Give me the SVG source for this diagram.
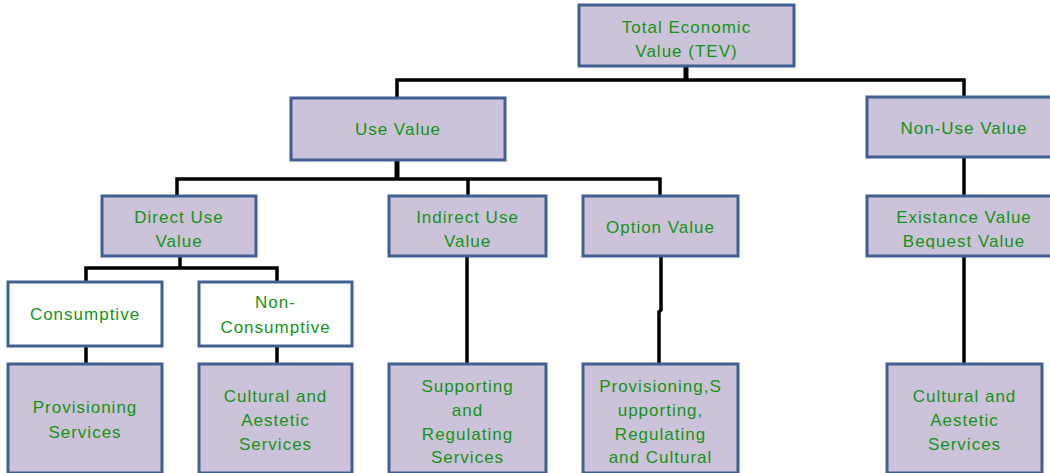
<svg xmlns="http://www.w3.org/2000/svg" width="1050" height="473" viewBox="0 0 1050 473">
<style>
.box{fill:#CCC2DA;stroke:#3F6090;stroke-width:3}
.wbox{fill:#FFFFFF;stroke:#3F6090;stroke-width:3}
.t{font-family:"Liberation Sans",Arial,sans-serif;font-size:17px;fill:#149414;text-anchor:middle;letter-spacing:1px}
.c{fill:none;stroke:#000000;stroke-width:3.5;stroke-linejoin:miter}
.ck{fill:none;stroke:#000000;stroke-width:5}
</style>
<defs>
<clipPath id="clipBeq"><rect x="860" y="190" width="200" height="59"/></clipPath>
</defs>
<rect width="1050" height="473" fill="#FFFFFF"/>
<g id="connectors">
<path class="ck" d="M686,66 V80"/>
<path class="c" d="M397,98 V80 H964 V98"/>
<path class="ck" d="M397,160 V179"/>
<path class="c" d="M177,196 V179 H660 V196"/>
<path class="c" d="M468,179 V196"/>
<path class="c" d="M180,256 V268"/>
<path class="c" d="M86,282 V268 H277 V282"/>
<path class="c" d="M86,346 V364"/>
<path class="c" d="M277,346 V364"/>
<path class="c" d="M467,256 V364"/>
<path class="c" d="M661,256 V310 L659,312 V364"/>
<path class="c" d="M964,157 V196"/>
<path class="c" d="M964,256 V364"/>
</g>
<g id="tev">
<rect class="box" x="579" y="5" width="215" height="61"/>
<text class="t" x="686.5" y="33">Total Economic</text>
<text class="t" x="686.5" y="57">Value (TEV)</text>
</g>
<g id="use-value">
<rect class="box" x="291" y="98" width="214" height="62"/>
<text class="t" x="398" y="135">Use Value</text>
</g>
<g id="non-use-value">
<rect class="box" x="867" y="97" width="200" height="60"/>
<text class="t" x="964" y="134">Non-Use Value</text>
</g>
<g id="direct-use">
<rect class="box" x="102" y="196" width="154" height="60"/>
<text class="t" x="179" y="223">Direct Use</text>
<text class="t" x="179" y="247">Value</text>
</g>
<g id="indirect-use">
<rect class="box" x="389" y="196" width="157" height="60"/>
<text class="t" x="467.5" y="223">Indirect Use</text>
<text class="t" x="467.5" y="247">Value</text>
</g>
<g id="option-value">
<rect class="box" x="583" y="196" width="155" height="60"/>
<text class="t" x="660.5" y="233">Option Value</text>
</g>
<g id="existance">
<rect class="box" x="867" y="196" width="200" height="60"/>
<text class="t" x="964" y="223">Existance Value</text>
<text class="t" x="964" y="247" clip-path="url(#clipBeq)">Bequest Value</text>
</g>
<g id="consumptive">
<rect class="wbox" x="8" y="282" width="154" height="64"/>
<text class="t" x="85" y="320">Consumptive</text>
</g>
<g id="non-consumptive">
<rect class="wbox" x="199" y="282" width="153" height="64"/>
<text class="t" x="275.5" y="308">Non-</text>
<text class="t" x="275.5" y="333">Consumptive</text>
</g>
<g id="provisioning">
<rect class="box" x="8" y="364" width="154" height="109"/>
<text class="t" x="85" y="413">Provisioning</text>
<text class="t" x="85" y="438">Services</text>
</g>
<g id="cultural-left">
<rect class="box" x="199" y="364" width="153" height="109"/>
<text class="t" x="275.5" y="402">Cultural  and</text>
<text class="t" x="275.5" y="426">Aestetic</text>
<text class="t" x="275.5" y="450">Services</text>
</g>
<g id="supporting">
<rect class="box" x="389" y="364" width="157" height="109"/>
<text class="t" x="467.5" y="392">Supporting</text>
<text class="t" x="467.5" y="416">and</text>
<text class="t" x="467.5" y="440">Regulating</text>
<text class="t" x="467.5" y="463">Services</text>
</g>
<g id="provisioning-all">
<rect class="box" x="583" y="364" width="155" height="109"/>
<text class="t" x="660.5" y="392">Provisioning,S</text>
<text class="t" x="660.5" y="416">upporting,</text>
<text class="t" x="660.5" y="440">Regulating</text>
<text class="t" x="660.5" y="463">and Cultural</text>
</g>
<g id="cultural-right">
<rect class="box" x="887" y="364" width="155" height="109"/>
<text class="t" x="964.5" y="402">Cultural and</text>
<text class="t" x="964.5" y="426">Aestetic</text>
<text class="t" x="964.5" y="450">Services</text>
</g>
</svg>
